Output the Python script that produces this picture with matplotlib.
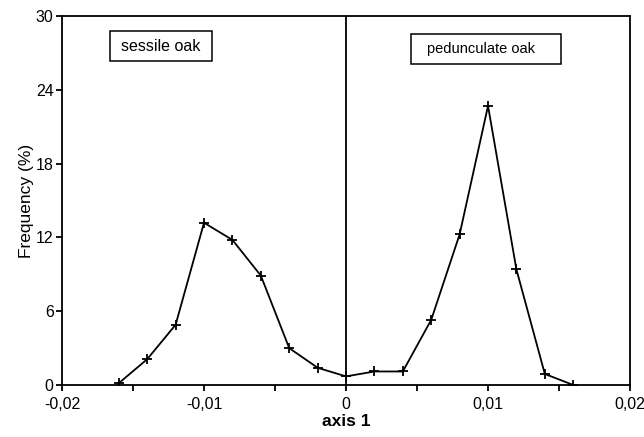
import matplotlib
matplotlib.use('Agg')
import matplotlib.pyplot as plt
from matplotlib.patches import Rectangle
from matplotlib.ticker import FuncFormatter, MultipleLocator

plt.rcParams['font.family'] = ['Liberation Sans', 'DejaVu Sans']

# data
axis1 = [-0.016, -0.014, -0.012, -0.010, -0.008, -0.006, -0.004, -0.002, 0.0,
         0.002, 0.004, 0.006, 0.008, 0.010, 0.012, 0.014, 0.016]
freq = [0.15, 2.1, 4.9, 13.2, 11.8, 8.9, 3.0, 1.4, 0.7,
        1.1, 1.1, 5.3, 12.25, 22.7, 9.4, 0.9, 0.0]
xticks = [-0.02, -0.01, 0.0, 0.01, 0.02]
yticks = [0, 6, 12, 18, 24, 30]

fig = plt.figure(figsize=(6.44, 4.37), dpi=100)
ax = fig.add_axes([0.0963, 0.119, 0.882, 0.844])

ax.plot(axis1, freq, color='black', lw=1.3, marker='+', ms=7, mew=1.3)
ax.axvline(0, color='black', lw=1.3)

ax.set_xlim(-0.02, 0.02)
ax.set_ylim(0, 30)
ax.set_xticks(xticks)
ax.set_yticks(yticks)
ax.xaxis.set_minor_locator(MultipleLocator(0.005))


def comma(v, pos):
    if abs(v) < 1e-12:
        return '0'
    return ('%.2f' % v).replace('.', ',')


ax.xaxis.set_major_formatter(FuncFormatter(comma))
ax.tick_params(axis='both', which='both', direction='out', length=4, width=1.3, labelsize=11.5)
ax.tick_params(axis='x', pad=5)
ax.tick_params(axis='y', pad=2)
for s in ax.spines.values():
    s.set_linewidth(1.3)

ax.set_xlabel('axis 1', fontsize=12.5, fontweight='bold', labelpad=1)
ax.set_ylabel('Frequency (%)', fontsize=12.5, labelpad=1)

# label boxes (axes fraction)
ax.add_patch(Rectangle((0.0845, 0.878), 0.1795, 0.081, transform=ax.transAxes,
                       facecolor='white', edgecolor='black', lw=1.1, zorder=3))
ax.text(0.173, 0.918, 'sessile oak', transform=ax.transAxes, ha='center', va='center',
        fontsize=11.5, zorder=4)
ax.add_patch(Rectangle((0.6144, 0.870), 0.2641, 0.081, transform=ax.transAxes,
                       facecolor='white', edgecolor='black', lw=1.1, zorder=3))
ax.text(0.737, 0.911, 'pedunculate oak', transform=ax.transAxes, ha='center', va='center',
        fontsize=10.5, zorder=4)

fig.savefig('out.png', dpi=100)
